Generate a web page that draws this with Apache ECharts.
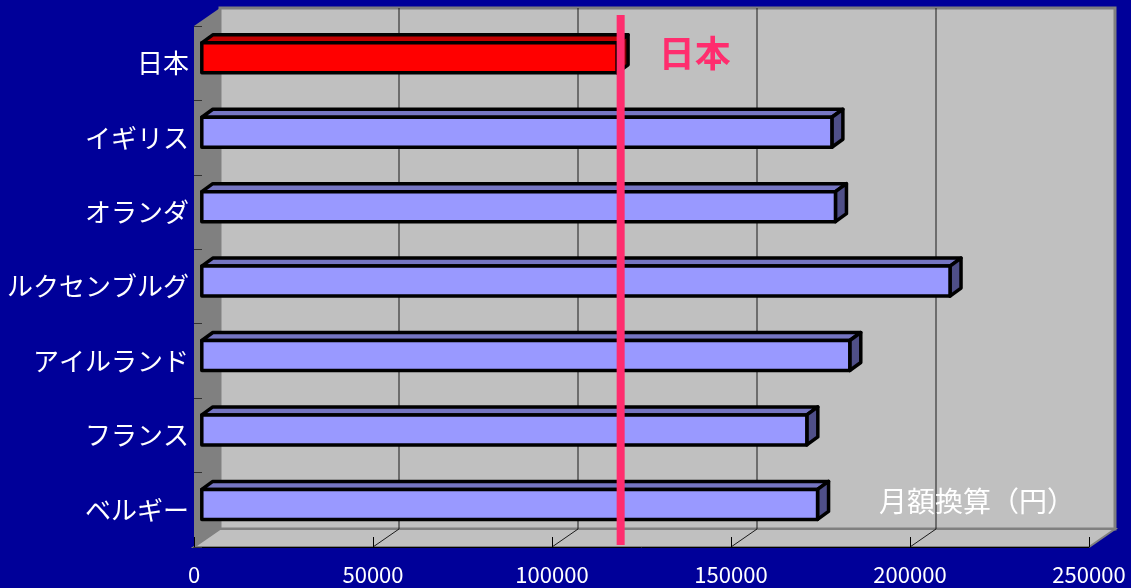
<!DOCTYPE html>
<html>
<head>
<meta charset="utf-8">
<script src="https://cdn.jsdelivr.net/npm/echarts@6/dist/echarts.min.js"></script>
<style>
  html, body { margin: 0; padding: 0; background: #000099; }
  #chart { width: 1131px; height: 588px; }
</style>
</head>
<body>
<div id="chart"></div>
<script>
// Monthly amounts (yen) by country
const categories = ['日本', 'イギリス', 'オランダ', 'ルクセンブルグ', 'アイルランド', 'フランス', 'ベルギー'];
const monthlyYen = [116000, 176000, 177000, 209000, 181000, 169000, 172000];
const highlighted = ['日本'];
const xTicks = [0, 50000, 100000, 150000, 200000, 250000];
const japanLine = [117000];

const FONT = '"Noto Sans CJK JP", "Noto Sans", sans-serif';

// 3D look: offset of the back wall from the front plane, bar placement in depth
const DEPTH = [26, -18];
const BAR_FRONT = [7.8, -5.4];
const BAR_DEPTH = [11, -8];
const BAR_H = 30;

const COLORS = {
  normal: { front: '#9999FF', top: '#7575C2', side: '#4F4F88' },
  hi:     { front: '#FF0000', top: '#C00000', side: '#800000' }
};

// Walls, floor and gridlines of the 3D plot box
function renderFrame(params, api) {
  const cs = params.coordSys;
  const x = cs.x, y = cs.y, w = cs.width, h = cs.height;
  const dx = DEPTH[0], dy = DEPTH[1];
  const children = [];
  children.push({
    type: 'rect',
    shape: { x: x + dx, y: y + dy, width: w, height: h },
    style: { fill: '#C0C0C0', stroke: '#808080', lineWidth: 3 }
  });
  children.push({
    type: 'polygon',
    shape: { points: [[x, y], [x + dx, y + dy], [x + dx, y + h + dy], [x, y + h]] },
    style: { fill: '#808080' }
  });
  children.push({
    type: 'polygon',
    shape: { points: [[x, y + h], [x + dx, y + h + dy], [x + w + dx, y + h + dy], [x + w, y + h]] },
    style: { fill: '#C0C0C0', stroke: '#808080', lineWidth: 2 }
  });
  const maxTick = xTicks[xTicks.length - 1];
  xTicks.forEach(function (t) {
    if (t === 0 || t === maxTick) return;
    const px = api.coord([t, 0])[0];
    children.push({
      type: 'line',
      shape: { x1: px + dx, y1: y + dy, x2: px + dx, y2: y + h + dy },
      style: { stroke: '#1a1a1a', lineWidth: 1 }
    });
    children.push({
      type: 'line',
      shape: { x1: px, y1: y + h, x2: px + dx, y2: y + h + dy },
      style: { stroke: '#1a1a1a', lineWidth: 1 }
    });
  });
  return { type: 'group', children: children };
}

// One 3D bar: top face, right end face, front face
function renderBar(params, api) {
  const v = api.value(0);
  const ci = api.value(1);
  const p0 = api.coord([0, ci]);
  const p1 = api.coord([v, ci]);
  const xl = p0[0] + BAR_FRONT[0];
  const xr = p1[0] + BAR_FRONT[0];
  const yc = p0[1] + BAR_FRONT[1];
  const yt = yc - BAR_H / 2, yb = yc + BAR_H / 2;
  const bx = BAR_DEPTH[0], by = BAR_DEPTH[1];
  const col = api.value(2) === 1 ? COLORS.hi : COLORS.normal;
  const edge = { stroke: '#000', lineWidth: 3.5, lineJoin: 'round' };
  return {
    type: 'group',
    children: [
      { type: 'polygon', shape: { points: [[xl, yt], [xl + bx, yt + by], [xr + bx, yt + by], [xr, yt]] },
        style: Object.assign({ fill: col.top }, edge) },
      { type: 'polygon', shape: { points: [[xr, yt], [xr + bx, yt + by], [xr + bx, yb + by], [xr, yb]] },
        style: Object.assign({ fill: col.side }, edge) },
      { type: 'rect', shape: { x: xl, y: yt, width: xr - xl, height: BAR_H },
        style: Object.assign({ fill: col.front }, edge) }
    ]
  };
}

// Vertical reference line for Japan with its label
function renderJapanLine(params, api) {
  const cs = params.coordSys;
  const px = api.coord([api.value(0), 0])[0] + BAR_FRONT[0];
  return {
    type: 'group',
    children: [
      { type: 'line', shape: { x1: px, y1: cs.y - 11, x2: px, y2: cs.y + cs.height - 2 },
        style: { stroke: '#FF2D6E', lineWidth: 8 } },
      { type: 'text', x: px + 38, y: 53,
        style: { text: '日本', fill: '#FF2D6E', font: 'bold 36px ' + FONT,
                 align: 'left', verticalAlign: 'middle', textAlign: 'left', textVerticalAlign: 'middle' } }
    ]
  };
}

const chart = echarts.init(document.getElementById('chart'), null, { renderer: 'canvas' });

chart.setOption({
  backgroundColor: '#000099',
  animation: false,
  textStyle: { fontFamily: FONT },
  grid: { left: 194, top: 26, width: 895, height: 521, containLabel: false, outerBoundsMode: 'none' },
  xAxis: {
    type: 'value',
    min: 0,
    max: 250000,
    interval: 50000,
    z: 5,
    axisLine: { show: true, lineStyle: { color: '#000', width: 1 } },
    axisTick: { show: true, inside: true, length: 10, lineStyle: { color: '#000' } },
    axisLabel: { color: '#fff', fontSize: 22, margin: 17, fontFamily: FONT,
                 formatter: function (v) { return String(v); } },
    splitLine: { show: false }
  },
  yAxis: {
    type: 'category',
    data: categories,
    inverse: true,
    z: 5,
    axisLine: { show: false },
    axisTick: { show: true, inside: true, length: 8, lineStyle: { color: '#333' } },
    axisLabel: { color: '#fff', fontSize: 26, margin: 5, fontFamily: FONT },
    splitLine: { show: false }
  },
  graphic: [{
    type: 'text',
    x: 977,
    y: 501,
    z: 10,
    style: { text: '月額換算（円）', fill: '#fff', font: '28px ' + FONT,
             align: 'center', verticalAlign: 'middle', textAlign: 'center', textVerticalAlign: 'middle' }
  }],
  series: [
    { type: 'custom', name: 'frame', z: 1, silent: true, renderItem: renderFrame, data: [[0, 0]],
      encode: { x: 0, y: 1 } },
    { type: 'custom', name: 'monthly', z: 2, renderItem: renderBar,
      data: monthlyYen.map(function (v, i) { return [v, i, highlighted.indexOf(categories[i]) >= 0 ? 1 : 0]; }),
      encode: { x: 0, y: 1 } },
    { type: 'custom', name: 'japan', z: 3, silent: true, renderItem: renderJapanLine,
      data: japanLine.map(function (v) { return [v, 0]; }), encode: { x: 0, y: 1 } }
  ]
});
</script>
</body>
</html>
